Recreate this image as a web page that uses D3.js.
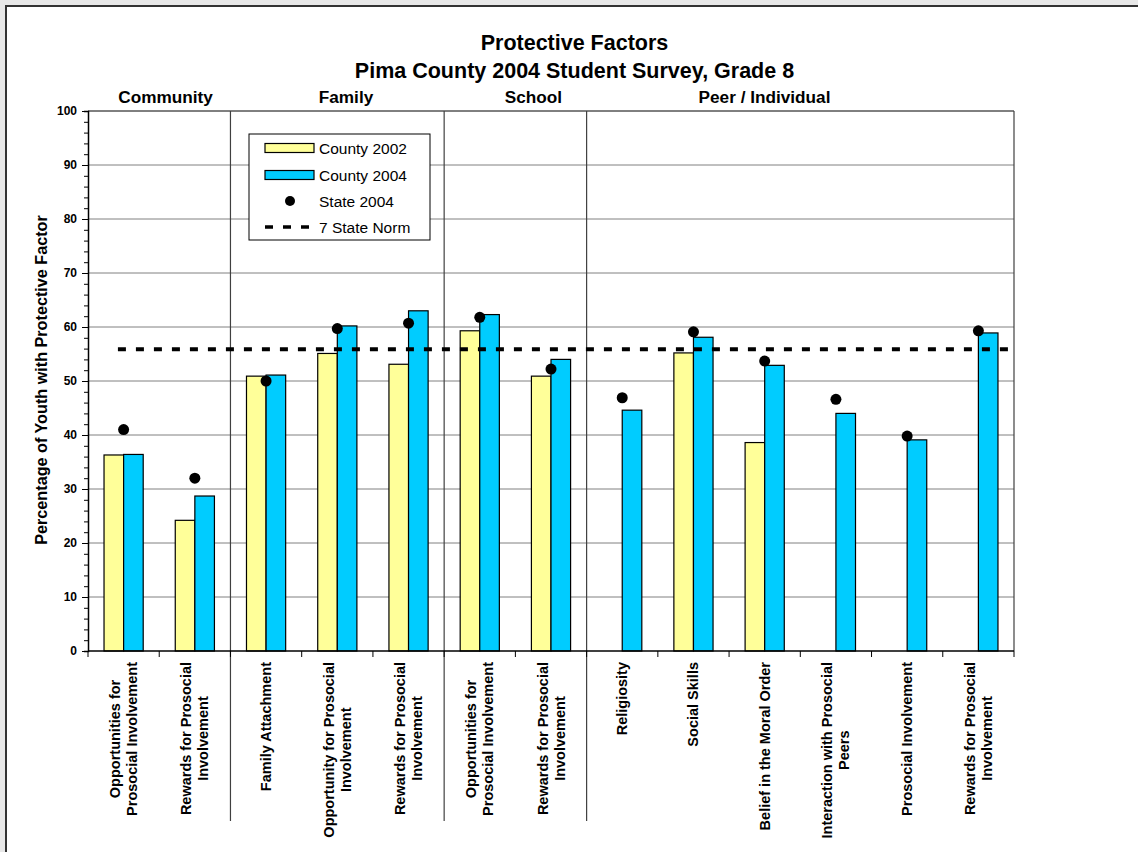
<!DOCTYPE html>
<html>
<head>
<meta charset="utf-8">
<script src="https://cdn.jsdelivr.net/npm/d3@7"></script>
<style>
  html, body { margin: 0; padding: 0; background: #e8e8e8; }
  svg { display: block; }
  text { font-family: Arial, "Liberation Sans", sans-serif; }
</style>
</head>
<body>
<script>
// ---------------- DATA ----------------
const categories = [
  ["Opportunities for", "Prosocial Involvement"],
  ["Rewards for Prosocial", "Involvement"],
  ["Family Attachment"],
  ["Opportunity for Prosocial", "Involvement"],
  ["Rewards for Prosocial", "Involvement"],
  ["Opportunities for", "Prosocial Involvement"],
  ["Rewards for Prosocial", "Involvement"],
  ["Religiosity"],
  ["Social Skills"],
  ["Belief in the Moral Order"],
  ["Interaction with Prosocial", "Peers"],
  ["Prosocial Involvement"],
  ["Rewards for Prosocial", "Involvement"]
];
const county2002 = [36.3, 24.2, 50.9, 55.1, 53.1, 59.3, 50.9, null, 55.2, 38.6, null, null, null];
const county2004 = [36.4, 28.7, 51.1, 60.2, 63.0, 62.3, 54.0, 44.6, 58.1, 52.9, 44.0, 39.1, 58.9];
const state2004  = [41.0, 32.0, 50.0, 59.7, 60.7, 61.8, 52.2, 46.9, 59.1, 53.7, 46.6, 39.8, 59.3];
const stateNorm = 55.9;
const sections = ["Community", "Family", "School", "Peer / Individual"];
const sectionSizes = [2, 3, 2, 6];
const yTicks = [0, 10, 20, 30, 40, 50, 60, 70, 80, 90, 100];
const legendLabels = ["County 2002", "County 2004", "State 2004", "7 State Norm"];
const titleLines = ["Protective Factors", "Pima County 2004 Student Survey, Grade 8"];
const yTitle = "Percentage of Youth with Protective Factor";

// ---------------- LAYOUT ----------------
const W = 1138, H = 852;
const plot = { left: 88, right: 1014, top: 111, bottom: 651 };
const colors = { c2002: "#FFFF99", c2004: "#00CCFF" };
const FONT = 'Arial, "Liberation Sans", sans-serif';

const svg = d3.select("body").append("svg").attr("width", W).attr("height", H);

// outer frame
svg.append("rect").attr("x", 6).attr("y", 6).attr("width", W + 10).attr("height", H + 10)
  .attr("fill", "#fff").attr("stroke", "#333").attr("stroke-width", 2);

const idx = d3.range(categories.length);
const x = d3.scaleBand().domain(idx).range([plot.left, plot.right]).paddingInner(0).paddingOuter(0);
const y = d3.scaleLinear().domain([0, 100]).range([plot.bottom, plot.top]);
// group occupies middle 55% of band
const groupW = x.bandwidth() * 0.55;
const barW = groupW / 2;
const groupOff = x.bandwidth() * 0.225;

// gridlines
svg.append("g").selectAll("line").data(yTicks.filter(d => d > 0)).join("line")
  .attr("x1", plot.left).attr("x2", plot.right)
  .attr("y1", d => y(d)).attr("y2", d => y(d))
  .attr("stroke", "#808080").attr("stroke-width", 1);

// plot border right/top
svg.append("line").attr("x1", plot.right).attr("x2", plot.right).attr("y1", plot.top).attr("y2", plot.bottom)
  .attr("stroke", "#404040").attr("stroke-width", 1.2);
svg.append("line").attr("x1", plot.left).attr("x2", plot.right).attr("y1", plot.top).attr("y2", plot.top)
  .attr("stroke", "#404040").attr("stroke-width", 1.2);

// section dividers
const cum = d3.cumsum(sectionSizes);
svg.append("g").selectAll("line").data(cum.slice(0, -1)).join("line")
  .attr("x1", d => x(d)).attr("x2", d => x(d))
  .attr("y1", plot.top).attr("y2", 821)
  .attr("stroke", "#404040").attr("stroke-width", 1.2);

// bars
const bars = svg.append("g");
bars.selectAll("rect.c2002").data(idx.filter(i => county2002[i] != null)).join("rect")
  .attr("class", "c2002")
  .attr("x", i => x(i) + groupOff)
  .attr("y", i => y(county2002[i]))
  .attr("width", barW)
  .attr("height", i => y(0) - y(county2002[i]))
  .attr("fill", colors.c2002).attr("stroke", "#000").attr("stroke-width", 1.2);
bars.selectAll("rect.c2004").data(idx.filter(i => county2004[i] != null)).join("rect")
  .attr("class", "c2004")
  .attr("x", i => x(i) + groupOff + barW)
  .attr("y", i => y(county2004[i]))
  .attr("width", barW)
  .attr("height", i => y(0) - y(county2004[i]))
  .attr("fill", colors.c2004).attr("stroke", "#000").attr("stroke-width", 1.2);

// state norm line
svg.append("line")
  .attr("x1", x(0) + x.bandwidth() * 0.42).attr("x2", plot.right - 4)
  .attr("y1", y(stateNorm)).attr("y2", y(stateNorm))
  .attr("stroke", "#000").attr("stroke-width", 4).attr("stroke-dasharray", "8,10");

// state dots
svg.append("g").selectAll("circle").data(idx).join("circle")
  .attr("cx", i => x(i) + x.bandwidth() / 2)
  .attr("cy", i => y(state2004[i]))
  .attr("r", 5.5).attr("fill", "#000");

// y axis
const yAxisG = svg.append("g").attr("transform", `translate(${plot.left},0)`);
yAxisG.call(d3.axisLeft(y).tickValues(d3.range(0, 101, 2)).tickSize(4).tickFormat(""));
yAxisG.call(g => g.select(".domain").attr("stroke", "#000").attr("stroke-width", 1.5));
yAxisG.selectAll(".tick line").attr("stroke", "#000");
const yMajor = svg.append("g").attr("transform", `translate(${plot.left},0)`)
  .call(d3.axisLeft(y).tickValues(yTicks).tickSize(6).tickPadding(5));
yMajor.select(".domain").remove();
yMajor.selectAll(".tick line").attr("stroke", "#000");
yMajor.selectAll(".tick text").attr("font-family", FONT).attr("font-size", 12)
  .attr("font-weight", "bold").attr("fill", "#000");

// x axis
const xAxisG = svg.append("g").attr("transform", `translate(0,${plot.bottom})`);
xAxisG.append("line").attr("x1", plot.left).attr("x2", plot.right).attr("y1", 0).attr("y2", 0)
  .attr("stroke", "#000").attr("stroke-width", 1.5);
xAxisG.selectAll("line.tick").data(d3.range(categories.length + 1)).join("line")
  .attr("class", "tick")
  .attr("x1", d => plot.left + d * x.bandwidth()).attr("x2", d => plot.left + d * x.bandwidth())
  .attr("y1", 0).attr("y2", 6).attr("stroke", "#000");

// category labels (rotated)
const labelTop = 662, lineGap = 17, catFont = 14.5;
idx.forEach(i => {
  const lines = categories[i];
  const cx = x(i) + x.bandwidth() / 2;
  const g = svg.append("g");
  const texts = lines.map((ln, k) => {
    const off = (k - (lines.length - 1) / 2) * lineGap;
    return g.append("text")
      .attr("font-family", FONT).attr("font-size", catFont).attr("font-weight", "bold")
      .attr("text-anchor", "middle").attr("fill", "#000")
      .attr("data-off", off)
      .text(ln);
  });
  const L = d3.max(texts, t => t.node().getComputedTextLength());
  const cy = labelTop + L / 2;
  texts.forEach(t => {
    const off = +t.attr("data-off");
    t.attr("transform", `translate(${cx + off + 5},${cy}) rotate(-90)`);
  });
});

// section headers
const sectionX = [165.5, 346, 533.5, 764.5];
svg.append("g").selectAll("text").data(sections).join("text")
  .attr("x", (d, i) => sectionX[i]).attr("y", 103)
  .attr("text-anchor", "middle").attr("font-family", FONT)
  .attr("font-size", 17.2).attr("font-weight", "bold").attr("fill", "#000")
  .text(d => d);

// title
svg.append("g").selectAll("text").data(titleLines).join("text")
  .attr("x", 574.5).attr("y", (d, i) => 50 + i * 28)
  .attr("text-anchor", "middle").attr("font-family", FONT)
  .attr("font-size", 21.5).attr("font-weight", "bold").attr("fill", "#000")
  .text(d => d);

// y title
svg.append("text")
  .attr("transform", `translate(47,${(plot.top + plot.bottom) / 2 - 1}) rotate(-90)`)
  .attr("text-anchor", "middle").attr("font-family", FONT)
  .attr("font-size", 16.2).attr("font-weight", "bold").attr("fill", "#000")
  .text(yTitle);

// legend
const lg = svg.append("g");
lg.append("rect").attr("x", 249).attr("y", 134).attr("width", 181).attr("height", 106)
  .attr("fill", "#fff").attr("stroke", "#000").attr("stroke-width", 1);
const rowY = [148, 175, 201, 227];
lg.append("rect").attr("x", 265).attr("y", rowY[0] - 4.5).attr("width", 49).attr("height", 9)
  .attr("fill", colors.c2002).attr("stroke", "#000").attr("stroke-width", 1.2);
lg.append("rect").attr("x", 265).attr("y", rowY[1] - 4.5).attr("width", 49).attr("height", 9)
  .attr("fill", colors.c2004).attr("stroke", "#000").attr("stroke-width", 1.2);
lg.append("circle").attr("cx", 290).attr("cy", rowY[2]).attr("r", 5).attr("fill", "#000");
lg.append("line").attr("x1", 265).attr("x2", 315).attr("y1", rowY[3]).attr("y2", rowY[3])
  .attr("stroke", "#000").attr("stroke-width", 3.5).attr("stroke-dasharray", "8,10");
lg.selectAll("text").data(legendLabels).join("text")
  .attr("x", 319).attr("y", (d, i) => rowY[i] + 5.5)
  .attr("font-family", FONT).attr("font-size", 15.5).attr("fill", "#000")
  .text(d => d);
</script>
</body>
</html>
